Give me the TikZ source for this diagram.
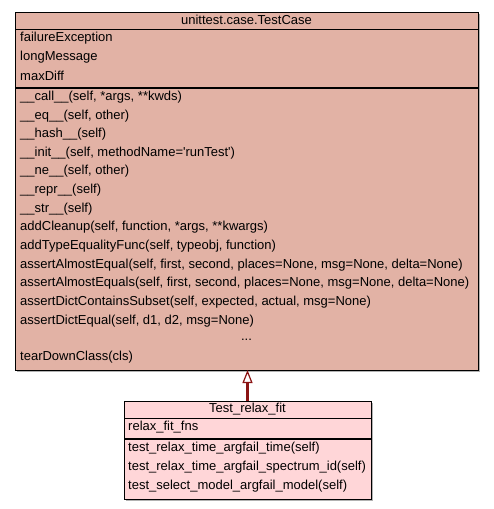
\documentclass[tikz,border=0pt]{standalone}
\usepackage{fontspec}
\newfontfamily\umlfont{Liberation Sans}
\usetikzlibrary{arrows.meta}
\definecolor{topfill}{RGB}{226,178,165}
\definecolor{botfill}{RGB}{255,214,216}
\definecolor{arrowred}{RGB}{139,20,20}
\tikzset{
  member/.style={anchor=west, inner sep=0pt, font=\umlfont\fontsize{13}{15}\selectfont},
  titletxt/.style={anchor=center, inner sep=0pt, font=\umlfont\fontsize{13}{15}\selectfont},
  boxline/.style={draw=black, line width=1pt},
  sepline/.style={draw=black, line width=1.3pt},
  shadowbox/.style={fill=black!30, draw=none}
}
\begin{document}
\begin{tikzpicture}[x=1pt,y=-1pt]
\useasboundingbox (0,0) rectangle (493,509);
% top class box
\fill[shadowbox] (16.5,13.5) rectangle (479.5,371.5);
\draw[boxline, fill=topfill] (15,12) rectangle (478,370);
\node[titletxt] (ttitle) at (246.5,20) {unittest.case.TestCase};
\draw[boxline] (15,29) -- (478,29);
\draw[sepline] (15,88) -- (478,88);
\node[member] (a1) at (20,38.5) {failureException};
\node[member] (a2) at (20,57.5) {longMessage};
\node[member] (a3) at (20,75.5) {maxDiff};
\node[member] (m1) at (20,97.5) {\_\_call\_\_(self, *args, **kwds)};
\node[member] (m2) at (20,116.5) {\_\_eq\_\_(self, other)};
\node[member] (m3) at (20,134.5) {\_\_hash\_\_(self)};
\node[member] (m4) at (20,153.5) {\_\_init\_\_(self, methodName='runTest')};
\node[member] (m5) at (20,171.5) {\_\_ne\_\_(self, other)};
\node[member] (m6) at (20,190.5) {\_\_repr\_\_(self)};
\node[member] (m7) at (20,209.5) {\_\_str\_\_(self)};
\node[member] (m8) at (20,227.5) {addCleanup(self, function, *args, **kwargs)};
\node[member] (m9) at (20,246.5) {addTypeEqualityFunc(self, typeobj, function)};
\node[member] (m10) at (20,265.5) {assertAlmostEqual(self, first, second, places=None, msg=None, delta=None)};
\node[member] (m11) at (20,283.5) {assertAlmostEquals(self, first, second, places=None, msg=None, delta=None)};
\node[member] (m12) at (20,302.5) {assertDictContainsSubset(self, expected, actual, msg=None)};
\node[member] (m13) at (20,321.5) {assertDictEqual(self, d1, d2, msg=None)};
\node[titletxt] (dots) at (246.5,339.5) {...};
\node[member] (m14) at (20,357.5) {tearDownClass(cls)};
\coordinate (topbot) at (247.5,370);
% bottom class box
\fill[shadowbox] (125.5,402.5) rectangle (372.5,500.5);
\draw[boxline, fill=botfill] (124,401) rectangle (371,499);
\node[titletxt] (btitle) at (247.5,409) {Test\_relax\_fit};
\draw[boxline] (124,418) -- (371,418);
\draw[sepline] (124,439) -- (371,439);
\node[member] (b1) at (128,427.5) {relax\_fit\_fns};
\node[member] (b2) at (128,448.5) {test\_relax\_time\_argfail\_time(self)};
\node[member] (b3) at (128,467.5) {test\_relax\_time\_argfail\_spectrum\_id(self)};
\node[member] (b4) at (128,486.5) {test\_select\_model\_argfail\_model(self)};
\coordinate (bottop) at (247.5,401);
% inheritance arrow
\draw[arrowred, line width=2.5pt, -{Triangle[open, width=10pt, length=13pt, line width=1.2pt, fill=white]}] (bottop) -- (topbot);
\end{tikzpicture}
\end{document}
